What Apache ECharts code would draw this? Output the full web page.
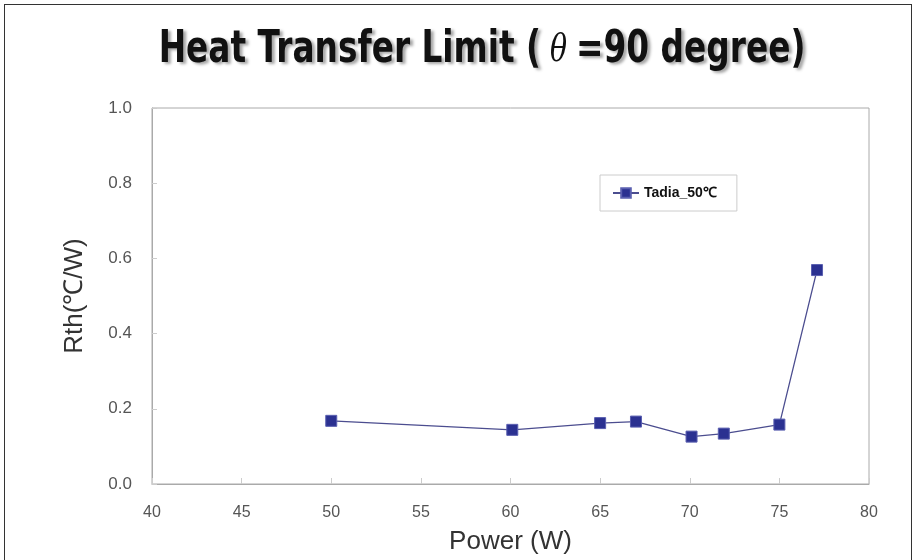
<!DOCTYPE html>
<html>
<head>
<meta charset="utf-8">
<script src="https://cdn.jsdelivr.net/npm/echarts@6/dist/echarts.min.js"></script>
<style>
  html, body { margin: 0; padding: 0; background: #fff; }
  #frame { position: absolute; left: 4px; top: 4px; width: 908px; height: 570px;
           border: 1px solid #333; border-bottom: none; box-sizing: border-box; }
  #main { position: absolute; left: 0; top: 0; width: 916px; height: 560px; }
</style>
</head>
<body>
<div id="frame"></div>
<div id="main"></div>
<script>
var powerW = [50, 60.1, 65, 67, 70.1, 71.9, 75, 77.1];
var rth = [0.168, 0.144, 0.162, 0.166, 0.126, 0.134, 0.158, 0.569];
var seriesName = 'Tadia_50℃';

var chart = {};

chart.init = function () {
    chart.render();
};

chart.render = function () {
    var points = [];
    powerW.forEach(function (p, i) {
        points.push([p, rth[i]]);
    });

    var titleFont = {
        fontFamily: 'DejaVu Sans',
        fontWeight: 'bold',
        fontSize: 44,
        fill: '#111',
        textShadowColor: 'rgba(0,0,0,0.35)',
        textShadowOffsetX: 3,
        textShadowOffsetY: 2,
        textShadowBlur: 3
    };

    var myChart = echarts.init(document.getElementById('main'));
    var option = {
        backgroundColor: 'transparent',
        animation: false,
        // title drawn as graphic text so it can be squeezed like the condensed original
        graphic: [{
            type: 'text',
            x: 482,
            y: 51,
            scaleX: 0.745,
            style: {
                text: '{a|Heat Transfer Limit (}{t| θ }{a|=90 degree)}',
                textAlign: 'center',
                textVerticalAlign: 'middle',
                rich: {
                    a: titleFont,
                    t: {
                        fontFamily: 'DejaVu Serif',
                        fontStyle: 'italic',
                        fontSize: 38,
                        fill: '#111'
                    }
                }
            }
        }],
        legend: {
            left: 600,
            top: 175,
            padding: [11, 20, 11, 12],
            borderColor: '#ccc',
            borderWidth: 1,
            itemWidth: 26,
            itemHeight: 12,
            itemGap: 4,
            textStyle: {
                fontFamily: 'Liberation Sans',
                fontWeight: 'bold',
                fontSize: 14,
                color: '#111'
            },
            data: [seriesName]
        },
        grid: {
            left: 152,
            right: 47,
            top: 108,
            bottom: 72,
            show: true,
            borderColor: '#aaa',
            borderWidth: 1
        },
        xAxis: {
            type: 'value',
            min: 40,
            max: 80,
            interval: 5,
            name: 'Power (W)',
            nameLocation: 'middle',
            nameGap: 45,
            nameTextStyle: { fontFamily: 'Liberation Sans', fontSize: 26, color: '#333' },
            axisLine: { lineStyle: { color: '#aaa' } },
            axisTick: { inside: true, length: 6, lineStyle: { color: '#ccc' } },
            axisLabel: { margin: 21, fontFamily: 'Liberation Sans', fontSize: 16, color: '#555' },
            splitLine: { show: false }
        },
        yAxis: {
            type: 'value',
            min: 0,
            max: 1,
            interval: 0.2,
            name: 'Rth(℃/W)',
            nameLocation: 'middle',
            nameGap: 64,
            nameTextStyle: { fontFamily: 'Liberation Sans', fontSize: 26, color: '#333' },
            axisLine: { show: true, lineStyle: { color: '#aaa' } },
            axisTick: { show: true, inside: true, length: 5, lineStyle: { color: '#ccc' } },
            axisLabel: {
                margin: 20,
                fontFamily: 'Liberation Sans',
                fontSize: 17,
                color: '#555',
                formatter: function (v) { return v.toFixed(1); }
            },
            splitLine: { show: false }
        },
        series: [{
            name: seriesName,
            type: 'line',
            data: points,
            symbol: 'rect',
            symbolSize: 11,
            lineStyle: { color: '#4b4d8f', width: 1.3 },
            itemStyle: { color: '#2b3191', borderColor: '#5a5fb0', borderWidth: 1 }
        }]
    };
    myChart.setOption(option);
};

chart.init();
</script>
</body>
</html>
